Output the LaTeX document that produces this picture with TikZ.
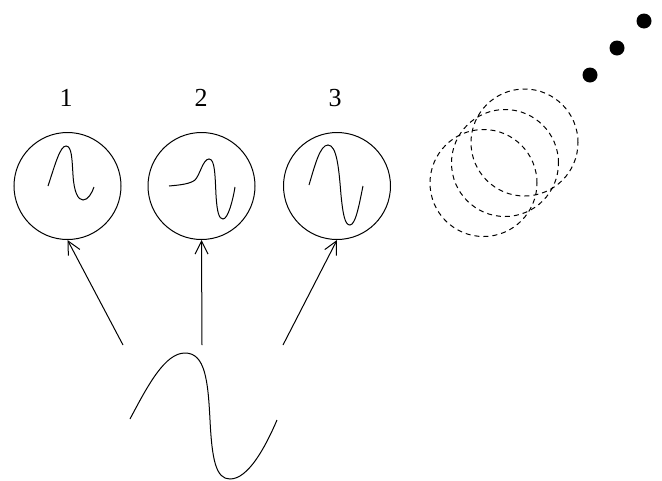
\documentclass[tikz,border=0pt]{standalone}
\usepackage{fontspec}
\setmainfont{Liberation Serif}
\usetikzlibrary{arrows.meta}
\begin{document}
\begin{tikzpicture}[x=1pt,y=-1pt,
  line width=1pt,
  scope/.style={draw,circle,minimum size=107pt,inner sep=0pt},
  ghost/.style={draw,circle,dashed,dash pattern=on 5pt off 4pt,minimum size=107pt,inner sep=0pt},
  lbl/.style={font=\fontsize{26}{26}\selectfont,inner sep=0pt},
  dot/.style={fill,circle,minimum size=15pt,inner sep=0pt},
  probe/.style={-{Straight Barb[length=13pt,width=13pt,line width=1pt]}}]
\useasboundingbox (0,0) rectangle (662,480);
% scopes
\node[scope] (s1) at (67.5,186) {};
\node[scope] (s2) at (201.5,186) {};
\node[scope] (s3) at (337,186) {};
\node[lbl] (l1) at (66,98) {1};
\node[lbl] (l2) at (201,98) {2};
\node[lbl] (l3) at (335,98) {3};
% traces
\draw (48,186) .. controls (55,165) and (60,146) .. (66,146)
  .. controls (72,146) and (72,160) .. (73,175)
  .. controls (74,192) and (78,200) .. (83,200)
  .. controls (88,200) and (92,193) .. (94,187);
\draw (169,186) .. controls (180,185) and (190,184) .. (195,180)
  .. controls (200,175) and (203,159) .. (209,159)
  .. controls (215,159) and (215,175) .. (216,195)
  .. controls (217,212) and (219,219) .. (223,219)
  .. controls (228,219) and (233,200) .. (235,187);
\draw (309,185) .. controls (315,165) and (320,145) .. (328,145)
  .. controls (337,145) and (339,170) .. (341,195)
  .. controls (343,215) and (345,225) .. (350,225)
  .. controls (356,225) and (360,200) .. (363,186);
% source
\coordinate (c1) at (123,345);
\coordinate (c2) at (202,345);
\coordinate (c3) at (283,345);
\draw (130,419) .. controls (148,385) and (165,353) .. (185,353)
  .. controls (205,353) and (208,380) .. (210,420)
  .. controls (212,460) and (216,479) .. (230,479)
  .. controls (248,479) and (265,448) .. (277,420);
\draw[probe] (c1) -- (s1.south);
\draw[probe] (c2) -- (s2.south);
\draw[probe] (c3) -- (s3.south);
% ghost scopes
\node[ghost] (g1) at (483.5,183) {};
\node[ghost] (g2) at (505,163) {};
\node[ghost] (g3) at (524.5,142.5) {};
\node[dot] (d1) at (590,75) {};
\node[dot] (d2) at (617,48) {};
\node[dot] (d3) at (644,21) {};
\end{tikzpicture}
\end{document}
